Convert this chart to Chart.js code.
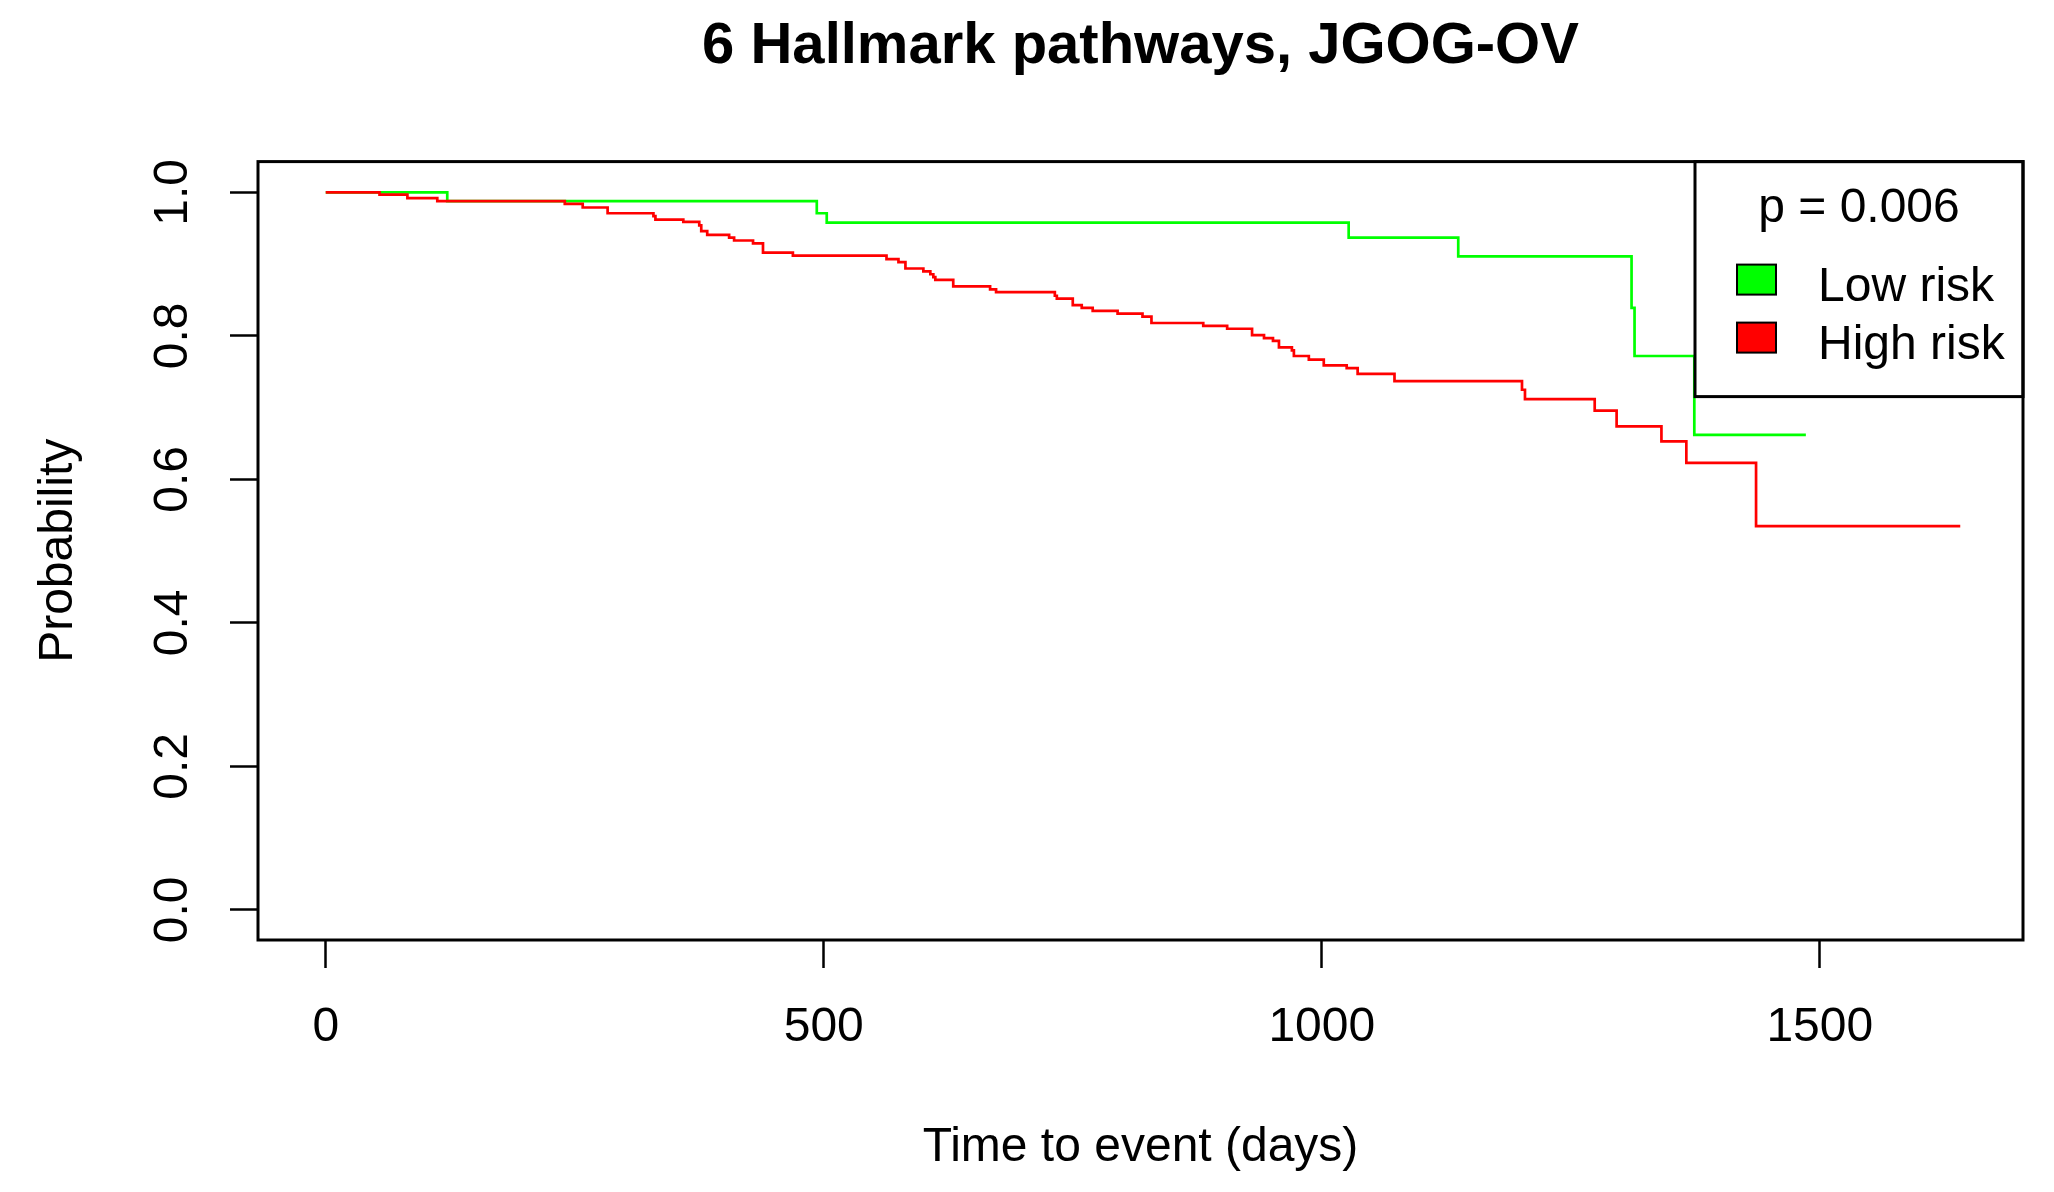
<!DOCTYPE html>
<html>
<head>
<meta charset="utf-8">
<title>6 Hallmark pathways, JGOG-OV</title>
<script src="https://cdn.jsdelivr.net/npm/chart.js@4.4.1/dist/chart.umd.min.js"></script>
<style>
  html, body { margin: 0; padding: 0; background: #fff; }
  canvas { display: block; }
</style>
</head>
<body>
<canvas id="km" width="2054" height="1192"></canvas>
<script>
// Kaplan-Meier estimates (days, survival probability)
const lowRiskDays = [0, 122, 493, 503, 1027, 1137, 1311, 1314, 1374, 1486];
const lowRiskSurv = [1.0, 0.988, 0.971, 0.958, 0.937, 0.911, 0.839, 0.772, 0.662, 0.662];

const highRiskDays = [0, 54, 82, 112, 240, 258, 283, 329, 331, 359, 375, 377, 383, 405, 410, 429, 439, 469,
  563, 575, 582, 600, 607, 610, 612, 630, 667, 673, 732, 734, 750, 759, 770, 795, 820, 829, 881, 905,
  930, 942, 951, 957, 970, 972, 987, 1002, 1025, 1036, 1073, 1201, 1204, 1274, 1296, 1341, 1366, 1436, 1641];
const highRiskSurv = [1.0, 0.997, 0.992, 0.988, 0.984, 0.979, 0.971, 0.967, 0.962, 0.959, 0.954, 0.946, 0.941, 0.937, 0.933, 0.929, 0.916, 0.912,
  0.907, 0.903, 0.894, 0.890, 0.886, 0.882, 0.878, 0.869, 0.865, 0.861, 0.856, 0.852, 0.843, 0.839, 0.835, 0.831, 0.827, 0.818, 0.814, 0.810,
  0.801, 0.797, 0.793, 0.784, 0.780, 0.772, 0.767, 0.759, 0.755, 0.747, 0.737, 0.725, 0.712, 0.696, 0.674, 0.653, 0.623, 0.535, 0.535];

const groupLabels = ["Low risk", "High risk"];
const groupColors = ["#00ff00", "#ff0000"];
const pValueText = "p = 0.006";

const xTicks = [0, 500, 1000, 1500];
const yTicks = [0, 0.2, 0.4, 0.6, 0.8, 1.0];
const yTickLabels = ["0.0", "0.2", "0.4", "0.6", "0.8", "1.0"];

const family = "'Liberation Sans', Arial, sans-serif";

function toPoints(days, surv) {
  return days.map((d, i) => ({ x: d, y: surv[i] }));
}

// R style legend in the top right corner + box around the plot
const frameAndLegend = {
  id: "frameAndLegend",
  afterDatasetsDraw(chart) {
    const { ctx, chartArea: a } = chart;
    const boxW = 328, boxH = 235;
    const lx = a.right - boxW, ly = a.top;
    ctx.save();
    ctx.fillStyle = "#fff";
    ctx.fillRect(lx, ly, boxW, boxH);
    ctx.lineWidth = 3;
    ctx.strokeStyle = "#000";
    ctx.strokeRect(lx, ly, boxW, boxH);

    ctx.fillStyle = "#000";
    ctx.font = "48px " + family;
    ctx.textAlign = "center";
    ctx.textBaseline = "alphabetic";
    ctx.fillText(pValueText, lx + boxW / 2, ly + 60);

    ctx.textAlign = "left";
    chart.data.datasets.forEach((ds, i) => {
      const rowY = ly + 103 + i * 58;
      ctx.fillStyle = ds.borderColor;
      ctx.fillRect(lx + 42, rowY, 39, 30);
      ctx.lineWidth = 2;
      ctx.strokeRect(lx + 42, rowY, 39, 30);
      ctx.fillStyle = "#000";
      ctx.fillText(ds.label, lx + 123, rowY + 36);
    });

    ctx.lineWidth = 3;
    ctx.strokeRect(a.left, a.top, a.right - a.left, a.bottom - a.top);
    ctx.restore();
  }
};

new Chart(document.getElementById("km"), {
  type: "line",
  data: {
    datasets: [
      {
        label: groupLabels[0],
        data: toPoints(lowRiskDays, lowRiskSurv),
        borderColor: groupColors[0],
        backgroundColor: groupColors[0],
        stepped: true,
        order: 1
      },
      {
        label: groupLabels[1],
        data: toPoints(highRiskDays, highRiskSurv),
        borderColor: groupColors[1],
        backgroundColor: groupColors[1],
        stepped: true,
        order: 0
      }
    ]
  },
  options: {
    responsive: false,
    devicePixelRatio: 1,
    animation: false,
    layout: { padding: { left: 0, right: 31, top: 0, bottom: 0 } },
    elements: {
      line: { borderWidth: 2.7, tension: 0 },
      point: { radius: 0 }
    },
    plugins: {
      legend: { display: false },
      tooltip: { enabled: false },
      title: {
        display: true,
        text: "6 Hallmark pathways, JGOG-OV",
        fullSize: false,
        color: "#000",
        font: { family: family, size: 58, weight: "bold" },
        padding: { top: 12, bottom: 80 }
      }
    },
    scales: {
      x: {
        type: "linear",
        min: -68,
        max: 1704,
        afterBuildTicks: s => { s.ticks = xTicks.map(v => ({ value: v })); },
        afterFit: s => { s.height = 252; },
        ticks: {
          color: "#000",
          font: { family: family, size: 48 },
          padding: 31,
          autoSkip: false,
          maxRotation: 0,
          callback: v => String(v)
        },
        grid: { drawOnChartArea: false, drawTicks: true, tickLength: 28, tickWidth: 2.5, tickColor: "#000" },
        border: { display: false },
        title: {
          display: true,
          text: "Time to event (days)",
          color: "#000",
          font: { family: family, size: 48 },
          padding: { top: 0, bottom: 15 }
        }
      },
      y: {
        type: "linear",
        min: -0.042,
        max: 1.043,
        afterBuildTicks: s => { s.ticks = yTicks.map(v => ({ value: v })); },
        afterFit: s => { s.width = 258; },
        ticks: {
          color: "#000",
          font: { family: family, size: 48 },
          padding: 23,
          autoSkip: false,
          minRotation: 90,
          maxRotation: 90,
          crossAlign: "center",
          callback: (v, i) => yTickLabels[i]
        },
        grid: { drawOnChartArea: false, drawTicks: true, tickLength: 28, tickWidth: 2.5, tickColor: "#000" },
        border: { display: false },
        title: {
          display: true,
          text: "Probability",
          color: "#000",
          font: { family: family, size: 48 },
          padding: { top: 30, bottom: 0 }
        }
      }
    }
  },
  plugins: [frameAndLegend]
});
</script>
</body>
</html>
